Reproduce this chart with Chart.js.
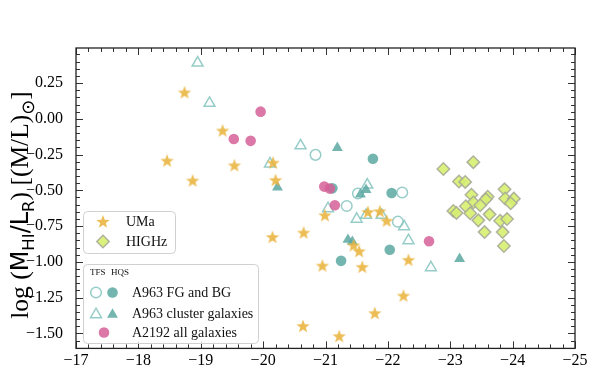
<!DOCTYPE html>
<html>
<head>
<meta charset="utf-8">
<script src="https://cdn.jsdelivr.net/npm/chart.js@4.4.1/dist/chart.umd.min.js"></script>
<style>
html, body { margin: 0; padding: 0; background: #fff; }
</style>
</head>
<body>
<canvas id="plot" width="598" height="371"></canvas>
<script>
// absolute magnitude M_R (x) and log(M_HI/L_R) (y)
var umaMag = [-18.74, -19.35, -18.46, -19.54, -18.87, -20.16, -20.20, -20.15, -20.65, -20.99, -20.95,
  -20.64, -21.22, -21.68, -21.87, -21.98, -21.45, -21.54, -21.59, -21.79, -22.25, -22.33];
var umaRatio = [0.185, -0.082, -0.292, -0.325, -0.431, -0.306, -0.428, -0.826, -0.795, -0.674, -1.026,
  -1.448, -1.519, -0.651, -0.646, -0.712, -0.884, -0.925, -1.035, -1.358, -1.236, -0.986];

var highzMag = [-22.89, -23.37, -23.14, -23.24, -23.87, -23.34, -23.60, -23.57, -23.88, -24.02, -23.97, -23.37,
  -23.25, -23.48, -23.05, -23.10, -23.32, -23.63, -23.45, -23.80, -23.91, -23.55, -23.84, -23.86];
var highzRatio = [-0.351, -0.303, -0.438, -0.441, -0.493, -0.531, -0.545, -0.563, -0.557, -0.558, -0.590, -0.585,
  -0.611, -0.604, -0.644, -0.658, -0.660, -0.668, -0.710, -0.713, -0.701, -0.792, -0.792, -0.889];

var fgTfsMag = [-20.84, -21.52, -22.23, -21.34, -22.16];
var fgTfsRatio = [-0.252, -0.522, -0.515, -0.610, -0.719];
var fgHqsMag = [-21.76, -21.11, -22.06, -22.03, -21.25];
var fgHqsRatio = [-0.279, -0.486, -0.519, -0.915, -0.993];

var clTfsMag = [-18.95, -19.14, -20.11, -20.60, -21.67, -21.04, -21.50, -21.65, -21.90, -22.26, -22.33, -22.69];
var clTfsRatio = [0.391, 0.109, -0.314, -0.188, -0.462, -0.627, -0.701, -0.674, -0.674, -0.753, -0.851, -1.040];
var clHqsMag = [-21.19, -20.23, -21.65, -21.56, -21.36, -21.43, -23.15];
var clHqsRatio = [-0.203, -0.479, -0.497, -0.528, -0.845, -0.859, -0.979];

var a2192Mag = [-19.96, -19.53, -19.80, -20.98, -21.07, -21.15, -22.66];
var a2192Ratio = [0.050, -0.141, -0.154, -0.474, -0.488, -0.604, -0.856];

var xTicks = [-17, -18, -19, -20, -21, -22, -23, -24, -25];

var starFill = 'rgba(233,180,62,0.88)';
var diaFill = 'rgba(214,240,112,0.9)';
var diaEdge = 'rgba(168,172,150,0.9)';
var tealFill = 'rgba(92,168,162,0.85)';
var tealOpen = 'rgba(140,200,194,0.9)';
var pinkFill = 'rgba(214,96,152,0.85)';
var serif = '"Liberation Serif", "DejaVu Serif", serif';
var sans = '"DejaVu Sans", sans-serif';

function pts(xs, ys) {
  return xs.map(function(x, i) { return { x: x, y: ys[i] }; });
}

function starPath(ctx, x, y, r) {
  ctx.beginPath();
  for (var i = 0; i < 10; i++) {
    var rr = i % 2 === 0 ? r : r * 0.42;
    var a = -Math.PI / 2 + i * Math.PI / 5;
    var px = x + rr * Math.cos(a), py = y + rr * Math.sin(a);
    if (i === 0) ctx.moveTo(px, py); else ctx.lineTo(px, py);
  }
  ctx.closePath();
}

var starImg = document.createElement('canvas');
starImg.width = 16;
starImg.height = 16;
(function() {
  var c = starImg.getContext('2d');
  starPath(c, 8, 8.6, 7);
  c.fillStyle = starFill;
  c.fill();
})();

function marker(ctx, kind, x, y) {
  ctx.save();
  if (kind === 'star') {
    starPath(ctx, x, y + 0.6, 7);
    ctx.fillStyle = starFill;
    ctx.fill();
  } else if (kind === 'diamond') {
    ctx.beginPath();
    ctx.moveTo(x, y - 6.2); ctx.lineTo(x + 6.2, y); ctx.lineTo(x, y + 6.2); ctx.lineTo(x - 6.2, y);
    ctx.closePath();
    ctx.fillStyle = diaFill; ctx.fill();
    ctx.lineWidth = 1.5; ctx.strokeStyle = diaEdge; ctx.stroke();
  } else if (kind === 'circle' || kind === 'ocircle' || kind === 'pink') {
    ctx.beginPath();
    ctx.arc(x, y, 5.3, 0, Math.PI * 2);
    if (kind === 'ocircle') {
      ctx.lineWidth = 1.5; ctx.strokeStyle = tealOpen; ctx.stroke();
    } else {
      ctx.fillStyle = kind === 'pink' ? pinkFill : tealFill; ctx.fill();
    }
  } else {
    var r = 6.3;
    ctx.beginPath();
    ctx.moveTo(x, y - r);
    ctx.lineTo(x + r * 0.866, y + r / 2);
    ctx.lineTo(x - r * 0.866, y + r / 2);
    ctx.closePath();
    if (kind === 'otri') {
      ctx.lineWidth = 1.5; ctx.strokeStyle = tealOpen; ctx.stroke();
    } else {
      ctx.fillStyle = tealFill; ctx.fill();
    }
  }
  ctx.restore();
}

function box(ctx, x, y, w, h) {
  var r = 4;
  ctx.save();
  ctx.beginPath();
  ctx.moveTo(x + r, y);
  ctx.arcTo(x + w, y, x + w, y + h, r);
  ctx.arcTo(x + w, y + h, x, y + h, r);
  ctx.arcTo(x, y + h, x, y, r);
  ctx.arcTo(x, y, x + w, y, r);
  ctx.closePath();
  ctx.fillStyle = 'rgba(255,255,255,0.8)';
  ctx.fill();
  ctx.strokeStyle = '#d0d0d0';
  ctx.lineWidth = 1;
  ctx.stroke();
  ctx.restore();
}

// inward ticks on all four sides plus the frame, legends and the y title
var frameTicks = {
  id: 'frameTicks',
  afterDatasetsDraw: function(chart) {
    var ctx = chart.ctx, a = chart.chartArea, xs = chart.scales.x, ys = chart.scales.y;
    ctx.save();
    ctx.strokeStyle = '#333';
    ctx.lineWidth = 1;
    ctx.beginPath();
    for (var i = 0; i <= 40; i++) {
      var px = Math.round(xs.getPixelForValue(-17 - i * 0.2)) + 0.5;
      var len = i % 5 === 0 ? 7 : 4;
      ctx.moveTo(px, a.bottom); ctx.lineTo(px, a.bottom - len);
      ctx.moveTo(px, a.top); ctx.lineTo(px, a.top + len);
    }
    for (var j = -40; j <= 10; j++) {
      var v = j * 0.05;
      if (v < ys.min || v > ys.max) continue;
      var py = Math.round(ys.getPixelForValue(v)) + 0.5;
      var l2 = j % 5 === 0 ? 7 : 4;
      ctx.moveTo(a.left, py); ctx.lineTo(a.left + l2, py);
      ctx.moveTo(a.right, py); ctx.lineTo(a.right - l2, py);
    }
    ctx.stroke();
    ctx.lineWidth = 1.3;
    ctx.strokeStyle = '#222';
    ctx.strokeRect(a.left, a.top, a.width, a.height);
    ctx.restore();
  },
  afterDraw: function(chart) {
    var ctx = chart.ctx;
    ctx.save();
    box(ctx, 83.5, 211.5, 92, 42);
    marker(ctx, 'star', 103, 221.5);
    marker(ctx, 'diamond', 103, 241.5);
    ctx.fillStyle = '#111';
    ctx.font = '14px ' + serif;
    ctx.textBaseline = 'middle';
    ctx.fillText('UMa', 126, 222);
    ctx.fillText('HIGHz', 126, 242);

    box(ctx, 83.5, 264.5, 175, 79);
    ctx.fillStyle = '#111';
    ctx.font = '9px ' + serif;
    ctx.fillText('TFS', 90, 273);
    ctx.fillText('HQS', 111, 273);
    marker(ctx, 'ocircle', 96, 292.5);
    marker(ctx, 'circle', 112.5, 292.5);
    marker(ctx, 'otri', 96, 314.5);
    marker(ctx, 'tri', 112.5, 314.5);
    marker(ctx, 'pink', 104, 332.5);
    ctx.font = '14px ' + serif;
    ctx.fillText('A963 FG and BG', 132, 293);
    ctx.fillText('A963 cluster galaxies', 132, 314);
    ctx.fillText('A2192 all galaxies', 132, 333);

    var segs = [
      ['log (', serif, 25.5, 0],
      ['M', sans, 24, 0],
      ['HI', sans, 16.5, 5.5],
      ['/L', sans, 24, 0],
      ['R', sans, 16.5, 5.5],
      [') [(M/L)', serif, 25.5, 0],
      ['\u2299', sans, 18, 5.5],
      [']', serif, 25.5, 0]
    ];
    var total = 0;
    segs.forEach(function(s) { ctx.font = s[2] + 'px ' + s[1]; total += ctx.measureText(s[0]).width; });
    ctx.translate(28, 205);
    ctx.rotate(-Math.PI / 2);
    ctx.textBaseline = 'alphabetic';
    ctx.fillStyle = '#000';
    var cx = -total / 2;
    segs.forEach(function(s) {
      ctx.font = s[2] + 'px ' + s[1];
      ctx.fillText(s[0], cx, s[3]);
      cx += ctx.measureText(s[0]).width;
    });
    ctx.restore();
  }
};

function minus(v, d) {
  return (v < 0 ? '\u2212' : '') + Math.abs(v).toFixed(d);
}

new Chart(document.getElementById('plot').getContext('2d'), {
  type: 'scatter',
  data: {
    datasets: [
      { label: 'UMa', data: pts(umaMag, umaRatio), pointStyle: starImg },
      { label: 'A2192 all galaxies', data: pts(a2192Mag, a2192Ratio), pointStyle: 'circle', pointRadius: 5.3,
        backgroundColor: pinkFill, borderWidth: 0 },
      { label: 'A963 cluster HQS', data: pts(clHqsMag, clHqsRatio), pointStyle: 'triangle', pointRadius: 6.3,
        backgroundColor: tealFill, borderWidth: 0 },
      { label: 'A963 cluster TFS', data: pts(clTfsMag, clTfsRatio), pointStyle: 'triangle', pointRadius: 6.3,
        backgroundColor: 'rgba(0,0,0,0)', borderColor: tealOpen, borderWidth: 1.5 },
      { label: 'A963 FG/BG HQS', data: pts(fgHqsMag, fgHqsRatio), pointStyle: 'circle', pointRadius: 5.3,
        backgroundColor: tealFill, borderWidth: 0 },
      { label: 'A963 FG/BG TFS', data: pts(fgTfsMag, fgTfsRatio), pointStyle: 'circle', pointRadius: 5.3,
        backgroundColor: 'rgba(0,0,0,0)', borderColor: tealOpen, borderWidth: 1.5 },
      { label: 'HIGHz', data: pts(highzMag, highzRatio), pointStyle: 'rectRot', pointRadius: 6.2,
        backgroundColor: diaFill, borderColor: diaEdge, borderWidth: 1.5 }
    ]
  },
  options: {
    responsive: false,
    animation: false,
    layout: { padding: { top: 48, right: 23, left: 0, bottom: 0 } },
    plugins: { legend: { display: false }, tooltip: { enabled: false } },
    scales: {
      x: {
        type: 'linear', min: -25, max: -17, reverse: true,
        afterFit: function(s) { s.height = 21; },
        grid: { display: false, drawTicks: false }, border: { display: false },
        afterBuildTicks: function(s) { s.ticks = xTicks.map(function(v) { return { value: v }; }); },
        ticks: { color: '#000', font: { family: serif, size: 16 }, padding: 3, maxRotation: 0,
          callback: function(v) { return minus(v, 0); } }
      },
      y: {
        type: 'linear', min: -1.605, max: 0.495,
        afterFit: function(s) { s.width = 76; },
        grid: { display: false, drawTicks: false }, border: { display: false },
        ticks: { color: '#000', font: { family: serif, size: 16 }, padding: 13, stepSize: 0.25, includeBounds: false,
          callback: function(v) { return minus(v, 2); } }
      }
    }
  },
  plugins: [frameTicks]
});
</script>
</body>
</html>
